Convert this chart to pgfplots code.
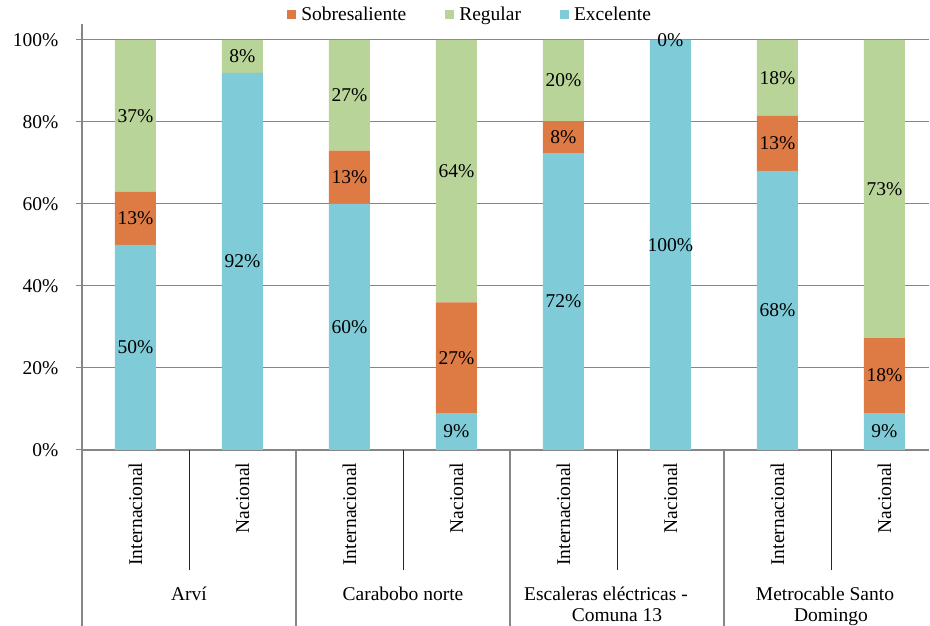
\documentclass[border=0pt]{standalone}
\usepackage{pgfplots}
\pgfplotsset{compat=1.18}
\usepackage{fontspec}
\setmainfont{Liberation Serif}
\definecolor{exc}{RGB}{127,203,215}
\definecolor{sob}{RGB}{222,122,68}
\definecolor{reg}{RGB}{185,212,153}
\definecolor{gridc}{RGB}{134,134,134}
\newcommand{\cf}{\fontsize{19.5}{23}\selectfont}
\begin{document}
\cf
\begin{tikzpicture}
\begin{axis}[
  at={(0pt,0pt)}, anchor=south west,
  scale only axis, width=847.4pt, height=426.4pt,
  xmin=-0.5, xmax=7.42, ymin=0, ymax=104,
  ybar stacked, bar width=41pt,
  clip=false,
  axis x line*=bottom, axis y line*=left,
  axis line style={gridc, line width=1.2pt},
  ytick={0,20,...,100},
  yticklabel={\pgfmathprintnumber{\tick}\%},
  /pgf/number format/assume math mode=true,
  ymajorgrids, grid style={gridc, line width=1pt},
  tick align=outside, major tick length=6pt,
  ytick style={gridc, line width=1pt},
  xtick={0,...,7}, xtick style={draw=none},
  xticklabels={Internacional,Nacional,Internacional,Nacional,Internacional,Nacional,Internacional,Nacional},
  xticklabel style={rotate=90, anchor=east, font=\cf},
  yticklabel style={anchor=east, font=\cf, xshift=-11pt},
  point meta=explicit symbolic,
  nodes near coords={\pgfplotspointmeta},
  every node near coord/.append style={anchor=center, black, font=\cf},
  legend style={draw=none, at={(0.458,1)}, anchor=center, yshift=8.6pt,
     legend columns=3, font=\cf, inner sep=0pt,
     /tikz/every odd column/.append style={column sep=3pt},
     /tikz/every even column/.append style={column sep=37pt}},
  legend image code/.code={\fill[#1] (0pt,-4.5pt) rectangle (9pt,4.5pt);},
]
\addlegendimage{fill=sob, draw=none}\addlegendentry{Sobresaliente}
\addlegendimage{fill=reg, draw=none}\addlegendentry{Regular}
\addlegendimage{fill=exc, draw=none}\addlegendentry{Excelente}

\addplot[fill=exc, draw=none, forget plot] coordinates {
 (0,50) [50\%] (1,92) [92\%] (2,60) [60\%] (3,9) [9\%]
 (4,72.4) [72\%] (5,99.99) [100\%] (6,68.1) [68\%] (7,9) [9\%]};
\addplot[fill=sob, draw=none, forget plot] coordinates {
 (0,13) [13\%] (1,0) [\relax] (2,13) [13\%] (3,27) [27\%]
 (4,7.8) [8\%] (5,0) [\relax] (6,13.4) [13\%] (7,18.3) [18\%]};
\addplot[fill=reg, draw=none, forget plot] coordinates {
 (0,37) [37\%] (1,8) [8\%] (2,27) [27\%] (3,64) [64\%]
 (4,19.8) [20\%] (5,0.01) [0\%] (6,18.5) [18\%] (7,72.7) [73\%]};

\draw[black!85, line width=0.8pt] (axis cs:0.5,0) -- ++(0pt,-120pt);
\draw[black!85, line width=0.8pt] (axis cs:2.5,0) -- ++(0pt,-120pt);
\draw[black!85, line width=0.8pt] (axis cs:4.5,0) -- ++(0pt,-120pt);
\draw[black!85, line width=0.8pt] (axis cs:6.5,0) -- ++(0pt,-120pt);
\draw[gridc, line width=1.2pt] (axis cs:-0.5,0) -- ++(0pt,-180pt);
\draw[gridc, line width=1.2pt] (axis cs:1.5,0) -- ++(0pt,-180pt);
\draw[gridc, line width=1.2pt] (axis cs:3.5,0) -- ++(0pt,-180pt);
\draw[gridc, line width=1.2pt] (axis cs:5.5,0) -- ++(0pt,-180pt);
\node[anchor=base, font=\cf] at ([yshift=-150pt]axis cs:0.5,0) {Arví};
\node[anchor=base, font=\cf] at ([yshift=-150pt]axis cs:2.5,0) {Carabobo norte};
\node[anchor=base, font=\cf] at ([yshift=-150pt, xshift=-11pt]axis cs:4.5,0) {Escaleras eléctricas -};
\node[anchor=base, font=\cf] at ([yshift=-171pt]axis cs:4.5,0) {Comuna 13};
\node[anchor=base, font=\cf] at ([yshift=-150pt, xshift=-6pt]axis cs:6.5,0) {Metrocable Santo};
\node[anchor=base, font=\cf] at ([yshift=-171pt]axis cs:6.5,0) {Domingo};
\end{axis}
\pgfresetboundingbox
\useasboundingbox (-82pt,-176pt) rectangle (848pt,450pt);
\end{tikzpicture}
\end{document}
